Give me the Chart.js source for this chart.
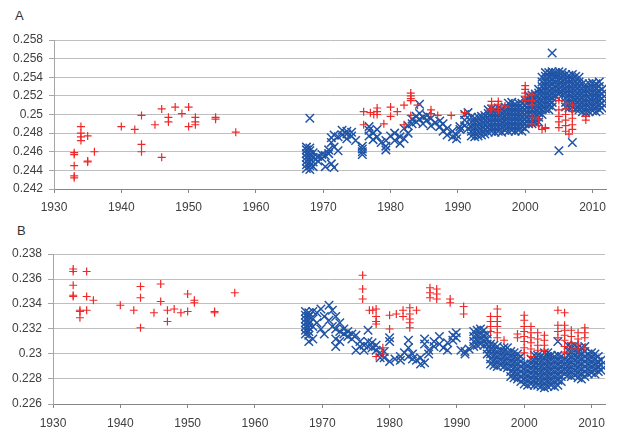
<!DOCTYPE html>
<html>
<head>
<meta charset="utf-8">
<script src="https://cdn.jsdelivr.net/npm/chart.js@4/dist/chart.umd.min.js"></script>
<style>
  body { margin: 0; background: #fff; }
  #wrap { position: relative; width: 618px; height: 433px; background: #fff; }
  canvas { position: absolute; left: 0; }
  .lbl { position: absolute; font: 13px "Liberation Sans", Arial, sans-serif; color: #333; }
</style>
</head>
<body>
<div id="wrap">
  <div class="lbl" style="left:15px; top:8px;">A</div>
  <canvas id="chartA" width="618" height="216" style="top:0px"></canvas>
  <div class="lbl" style="left:17px; top:223px;">B</div>
  <canvas id="chartB" width="618" height="217" style="top:216px"></canvas>
</div>
<script>
const xTicks = [1930, 1940, 1950, 1960, 1970, 1980, 1990, 2000, 2010];
const yTicksA = [0.242, 0.244, 0.246, 0.248, 0.25, 0.252, 0.254, 0.256, 0.258];
const yTicksB = [0.226, 0.228, 0.23, 0.232, 0.234, 0.236, 0.238];

// panel A, red "+" series: [year, value]
const redA = [
  [1933,0.2459],[1933,0.2457],[1933,0.2445],[1933,0.2434],[1933,0.2432],
  [1934,0.2487],[1934,0.2480],[1934,0.2476],[1934,0.2472],
  [1935,0.2477],[1935,0.2450],[1935,0.2449],[1936,0.2460],
  [1940,0.2487],[1942,0.2484],
  [1943,0.2499],[1943,0.2468],[1943,0.2460],[1945,0.2489],
  [1946,0.2506],[1946,0.2454],[1947,0.2497],[1947,0.2492],
  [1948,0.2508],[1949,0.2501],[1950,0.2508],[1950,0.2487],
  [1951,0.2497],[1951,0.2492],[1951,0.2489],[1954,0.2497],[1954,0.2495],[1957,0.2481],
  [1976,0.2503],[1976,0.2489],[1977,0.2502],[1977.5,0.2500],[1978,0.2507],[1978,0.2503],[1978,0.2500],
  [1979,0.2490],[1980,0.2508],[1980,0.2498],[1981,0.2503],[1982,0.2510],[1982,0.2489],
  [1983,0.2523],[1983,0.2520],[1983,0.2517],[1983,0.2515],[1983,0.2499],[1984,0.2510],
  [1986,0.2505],[1986,0.2501],[1987,0.2499],[1989,0.2499],[1991,0.2502],
  [1994.8,0.2505],[1995,0.2514],[1995,0.2510],[1995,0.2506],
  [1996,0.2514],[1996,0.2511],[1996,0.2507],[1996,0.2504],[1997,0.2509],
  [2000,0.2531],[2000,0.2527],[2000,0.2523],[2000,0.2519],[2000,0.2515],
  [2001,0.2521],[2001,0.2515],[2001,0.2510],[2001,0.2497],[2001,0.2490],
  [2002,0.2495],[2002,0.2488],[2002.5,0.2484],[2003,0.2486],[2003,0.2485],
  [2005,0.2515],[2005,0.2505],[2005,0.2498],[2005,0.2492],[2005,0.2486],
  [2006,0.2512],[2006,0.2506],[2006,0.2500],[2006,0.2494],[2006,0.2488],[2006,0.2482],[2006.5,0.2479],
  [2007,0.2510],[2007,0.2503],[2007,0.2496],[2007,0.2489],[2007,0.2484],
  [2009,0.2498],[2009,0.2494]
];

// panel A, blue "x" series: [year, [values]]
const blueA = [
  [1967.5,[0.2442,0.2446,0.2450,0.2454,0.2458,0.2462,0.2465]],
  [1968.0,[0.2441,0.2445,0.2449,0.2453,0.2457,0.2461,0.2464,0.2496]],
  [1968.5,[0.2444,0.2449,0.2454,0.2459]],
  [1969.2,[0.2450,0.2455]],[1969.8,[0.2453,0.2457]],[1970.3,[0.2444,0.2456]],
  [1970.8,[0.2458,0.2462]],[1971.2,[0.2470,0.2475,0.2447]],[1971.6,[0.2465,0.2478,0.2443]],
  [1972.2,[0.2461,0.2476]],[1972.8,[0.2478,0.2483]],[1973.5,[0.2474,0.2479,0.2482]],
  [1974.2,[0.2477,0.2481]],[1974.8,[0.2472]],[1975.8,[0.2457,0.2460,0.2463,0.2466]],
  [1976.8,[0.2477,0.2483,0.2487]],[1977.4,[0.2473,0.2480]],[1978.0,[0.2476,0.2484]],
  [1978.6,[0.2470]],[1979.3,[0.2462,0.2466,0.2472]],[1980.0,[0.2477]],
  [1980.6,[0.2472,0.2480]],[1981.4,[0.2469,0.2476]],[1982.0,[0.2474,0.2485]],
  [1982.6,[0.2480,0.2488]],[1983.2,[0.2490,0.2495]],[1983.8,[0.2492,0.2498]],
  [1984.3,[0.2495,0.2501,0.2511]],[1984.8,[0.2490,0.2497]],[1985.4,[0.2494,0.2499]],
  [1986.0,[0.2488,0.2496]],[1986.6,[0.2491]],[1987.3,[0.2487,0.2493]],
  [1987.8,[0.2482,0.2490]],[1988.4,[0.2478,0.2485]],[1989.2,[0.2476,0.2482]],
  [1989.8,[0.2474,0.2478]],[1990.3,[0.2484,0.2487]],[1991.0,[0.2488,0.2494,0.2500]],
  [1991.5,[0.2502,0.2485]],
  [1992.0,[0.2477,0.2482,0.2487,0.2492,0.2497]],
  [1992.5,[0.2476,0.2481,0.2486,0.2491,0.2496]],
  [1993.0,[0.2477,0.2482,0.2487,0.2492,0.2497]],
  [1993.5,[0.2478,0.2483,0.2488,0.2493,0.2498]],
  [1994.0,[0.2479,0.2484,0.2489,0.2494,0.2499]],
  [1994.5,[0.2481,0.2486,0.2491,0.2496,0.2501,0.2505]],
  [1995.0,[0.2482,0.2487,0.2492,0.2497,0.2502,0.2506]],
  [1995.5,[0.2481,0.2486,0.2491,0.2496,0.2501,0.2505]],
  [1996.0,[0.2482,0.2487,0.2492,0.2497,0.2502,0.2507]],
  [1996.5,[0.2481,0.2486,0.2491,0.2496,0.2501,0.2506]],
  [1997.0,[0.2483,0.2488,0.2493,0.2498,0.2503,0.2508]],
  [1997.5,[0.2482,0.2487,0.2492,0.2497,0.2502,0.2507,0.2512]],
  [1998.0,[0.2483,0.2488,0.2493,0.2498,0.2503,0.2508,0.2513]],
  [1998.5,[0.2482,0.2487,0.2492,0.2497,0.2502,0.2507,0.2511]],
  [1999.0,[0.2483,0.2488,0.2493,0.2498,0.2503,0.2508,0.2512]],
  [1999.5,[0.2482,0.2487,0.2492,0.2497,0.2502,0.2507,0.2512]],
  [2000.0,[0.2485,0.2490,0.2495,0.2500,0.2505,0.2510,0.2515]],
  [2000.5,[0.2490,0.2495,0.2500,0.2505,0.2510,0.2515,0.2520]],
  [2001.0,[0.2490,0.2495,0.2500,0.2505,0.2510,0.2515,0.2521]],
  [2001.5,[0.2491,0.2496,0.2501,0.2506,0.2511,0.2516,0.2522]],
  [2002.0,[0.2492,0.2497,0.2502,0.2507,0.2512,0.2517,0.2523,0.2527]],
  [2002.5,[0.2500,0.2505,0.2510,0.2515,0.2520,0.2525,0.2530,0.2535,0.2540]],
  [2003.0,[0.2506,0.2511,0.2516,0.2521,0.2526,0.2531,0.2536,0.2541,0.2545]],
  [2003.5,[0.2505,0.2510,0.2515,0.2520,0.2525,0.2530,0.2535,0.2540,0.2545]],
  [2004.0,[0.2508,0.2513,0.2518,0.2523,0.2528,0.2533,0.2538,0.2543,0.2546,0.2566]],
  [2004.5,[0.2520,0.2525,0.2530,0.2535,0.2540,0.2545]],
  [2005.0,[0.2522,0.2527,0.2532,0.2537,0.2542,0.2546,0.2461]],
  [2005.5,[0.2521,0.2526,0.2531,0.2536,0.2541,0.2545]],
  [2006.0,[0.2508,0.2513,0.2518,0.2523,0.2528,0.2533,0.2538,0.2543]],
  [2006.5,[0.2507,0.2512,0.2517,0.2522,0.2527,0.2532,0.2537,0.2542]],
  [2007.0,[0.2508,0.2513,0.2518,0.2523,0.2528,0.2533,0.2538,0.2543,0.2470]],
  [2007.5,[0.2506,0.2511,0.2516,0.2521,0.2526,0.2531,0.2536,0.2541]],
  [2008.0,[0.2505,0.2510,0.2515,0.2520,0.2525,0.2530,0.2535,0.2540]],
  [2008.5,[0.2503,0.2508,0.2513,0.2518,0.2523,0.2528,0.2533]],
  [2009.0,[0.2502,0.2507,0.2512,0.2517,0.2522,0.2527,0.2532]],
  [2009.5,[0.2503,0.2508,0.2513,0.2518,0.2523,0.2528,0.2533]],
  [2010.0,[0.2504,0.2509,0.2514,0.2519,0.2524,0.2529,0.2534]],
  [2010.5,[0.2503,0.2508,0.2513,0.2518,0.2523,0.2528,0.2533]],
  [2011.0,[0.2505,0.2510,0.2515,0.2520,0.2525,0.2530,0.2535]],
  [2011.4,[0.2507,0.2512,0.2517,0.2522,0.2527]]
];

// panel B, red "+" series
const redB = [
  [1933,0.2368],[1933,0.2366],[1933,0.2355],[1933,0.2347],[1933,0.2346],
  [1934,0.2335],[1934,0.2334],[1934,0.2329],
  [1935,0.2366],[1935,0.2346],[1935,0.2335],[1936,0.2343],
  [1940,0.2339],[1942,0.2335],[1943,0.2354],[1943,0.2345],[1943,0.2321],
  [1945,0.2333],[1946,0.2356],[1946,0.2342],[1947,0.2335],[1947,0.2326],
  [1948,0.2336],[1949,0.2333],[1950,0.2348],[1950,0.2334],[1951,0.2343],[1951,0.2341],
  [1954,0.2334],[1954,0.2333],[1957,0.2349],
  [1976,0.2363],[1976,0.2352],[1976,0.2344],
  [1977,0.2335],[1977.5,0.2335],[1978,0.2336],[1978,0.2330],[1978,0.2326],[1978,0.2324],
  [1978,0.2298],[1979,0.2305],[1979,0.2300],[1980,0.2331],[1980,0.2320],[1981,0.2332],
  [1982,0.2335],[1982,0.2330],[1983,0.2337],[1983,0.2332],[1983,0.2328],[1983,0.2325],[1983,0.2321],
  [1984,0.2335],[1986,0.2353],[1986,0.2349],[1986,0.2345],[1987,0.2352],[1987,0.2348],[1987,0.2344],
  [1989,0.2344],[1989,0.2341],[1991,0.2338],[1991,0.2332],
  [1995,0.2330],[1995,0.2326],[1995,0.2322],[1995,0.2318],
  [1996,0.2336],[1996,0.2330],[1996,0.2326],[1996,0.2322],[1996,0.2317],[1996,0.2313],[1997,0.2311],
  [1999,0.2316],[1999,0.2313],
  [2000,0.2331],[2000,0.2327],[2000,0.2322],[2000,0.2318],[2000,0.2314],[2000,0.2310],[2000,0.2305],[2000,0.2301],
  [2001,0.2322],[2001,0.2317],[2001,0.2313],[2001,0.2309],[2001,0.2304],[2001,0.2298],
  [2002,0.2317],[2002,0.2312],[2002,0.2307],[2002,0.2303],
  [2003,0.2315],[2003,0.2311],[2003,0.2307],[2003,0.2303],
  [2005,0.2335],[2005,0.2323],[2005,0.2318],[2005,0.2313],
  [2006,0.2333],[2006,0.2323],[2006,0.2319],[2006,0.2315],[2006,0.2311],[2006,0.2306],[2006,0.2301],
  [2007,0.2319],[2007,0.2314],[2007,0.2309],[2007,0.2304],
  [2008,0.2317],[2008,0.2312],[2008,0.2308],[2008,0.2304],
  [2009,0.2321],[2009,0.2317],[2009,0.2313],[2009,0.2305]
];

// panel B, blue "x" series
const blueB = [
  [1967.5,[0.2316,0.2319,0.2322,0.2325,0.2328,0.2331,0.2334]],
  [1968.0,[0.2315,0.2318,0.2321,0.2324,0.2327,0.2330,0.2333,0.2310]],
  [1968.6,[0.2322,0.2328,0.2334,0.2312]],
  [1969.2,[0.2333,0.2325]],[1969.8,[0.2336,0.2320]],[1970.3,[0.2330,0.2316]],
  [1971.0,[0.2339,0.2327]],[1971.5,[0.2335,0.2322]],[1972.0,[0.2330,0.2320,0.2312,0.2306]],
  [1972.6,[0.2325,0.2318,0.2310]],[1973.2,[0.2316,0.2320]],[1973.8,[0.2314,0.2318]],
  [1974.4,[0.2312,0.2316]],[1975.0,[0.2315,0.2303]],[1975.6,[0.2306,0.2310]],
  [1976.2,[0.2307,0.2303]],[1976.8,[0.2306,0.2310,0.2319]],[1977.4,[0.2305,0.2309]],
  [1978.0,[0.2303,0.2307]],[1978.6,[0.2301,0.2297]],[1979.2,[0.2297,0.2302]],
  [1980.0,[0.2313,0.2310,0.2294]],[1980.8,[0.2296]],[1981.6,[0.2295,0.2298]],
  [1982.2,[0.2301]],[1982.8,[0.2311,0.2305,0.2298]],[1983.4,[0.2300,0.2296]],
  [1984.0,[0.2295]],[1984.6,[0.2292,0.2297]],[1985.2,[0.2312,0.2308,0.2293]],
  [1985.8,[0.2303,0.2300]],[1986.6,[0.2306,0.2310]],[1987.4,[0.2314,0.2308]],
  [1988.0,[0.2305]],[1988.6,[0.2303,0.2309]],[1989.4,[0.2311,0.2315]],
  [1989.9,[0.2317,0.2313]],[1990.6,[0.2303]],[1991.2,[0.2302,0.2300]],[1991.8,[0.2304]],
  [1992.5,[0.2306,0.2310,0.2314,0.2318]],
  [1993.0,[0.2307,0.2311,0.2315,0.2319]],
  [1993.5,[0.2308,0.2312,0.2316,0.2320]],
  [1994.0,[0.2307,0.2311,0.2315,0.2319]],
  [1994.5,[0.2300,0.2304,0.2308,0.2312,0.2316]],
  [1995.0,[0.2292,0.2296,0.2300,0.2304,0.2308]],
  [1995.5,[0.2291,0.2295,0.2299,0.2303,0.2307]],
  [1996.0,[0.2290,0.2294,0.2298,0.2302,0.2306]],
  [1996.5,[0.2291,0.2295,0.2299,0.2303]],
  [1997.0,[0.2290,0.2294,0.2298,0.2302,0.2305]],
  [1997.5,[0.2289,0.2293,0.2297,0.2301,0.2305]],
  [1998.0,[0.2282,0.2286,0.2290,0.2294,0.2298,0.2302]],
  [1998.5,[0.2281,0.2285,0.2289,0.2293,0.2297,0.2301]],
  [1999.0,[0.2280,0.2284,0.2288,0.2292,0.2296,0.2300]],
  [1999.5,[0.2278,0.2282,0.2286,0.2290,0.2294,0.2298]],
  [2000.0,[0.2276,0.2280,0.2284,0.2288,0.2292]],
  [2000.5,[0.2275,0.2279,0.2283,0.2287,0.2291]],
  [2001.0,[0.2276,0.2280,0.2284,0.2288,0.2292,0.2296]],
  [2001.5,[0.2275,0.2279,0.2283,0.2287,0.2291,0.2295,0.2299]],
  [2002.0,[0.2275,0.2279,0.2283,0.2287,0.2291,0.2295,0.2299]],
  [2002.5,[0.2274,0.2278,0.2282,0.2286,0.2290,0.2294,0.2298]],
  [2003.0,[0.2273,0.2277,0.2281,0.2285,0.2289,0.2293,0.2297,0.2301]],
  [2003.5,[0.2274,0.2278,0.2282,0.2286,0.2290,0.2294,0.2298,0.2301]],
  [2004.0,[0.2275,0.2279,0.2283,0.2287,0.2291,0.2295,0.2299]],
  [2004.5,[0.2274,0.2278,0.2282,0.2286,0.2290,0.2294,0.2298]],
  [2005.0,[0.2275,0.2279,0.2283,0.2287,0.2291,0.2295,0.2299,0.2310]],
  [2005.5,[0.2278,0.2282,0.2286,0.2290,0.2294,0.2298]],
  [2006.0,[0.2284,0.2288,0.2292,0.2296]],
  [2006.5,[0.2283,0.2287,0.2291,0.2295,0.2299,0.2303,0.2307]],
  [2007.0,[0.2282,0.2286,0.2290,0.2294,0.2298,0.2302,0.2306]],
  [2007.5,[0.2283,0.2287,0.2291,0.2295,0.2299,0.2303,0.2307]],
  [2008.0,[0.2281,0.2285,0.2289,0.2293,0.2297,0.2301,0.2305]],
  [2008.5,[0.2280,0.2284,0.2288,0.2292,0.2296,0.2300,0.2305]],
  [2009.0,[0.2282,0.2286,0.2290,0.2294,0.2298,0.2302,0.2306]],
  [2009.5,[0.2284,0.2288,0.2292,0.2296,0.2300]],
  [2010.0,[0.2285,0.2289,0.2293,0.2297,0.2301]],
  [2010.5,[0.2284,0.2288,0.2292,0.2296,0.2300]],
  [2011.0,[0.2286,0.2290,0.2294,0.2298]],
  [2011.4,[0.2287,0.2291,0.2295]]
];

const FONT = { family: '"Liberation Sans", Arial, sans-serif', size: 12 };
const TEXT = '#404040';

function toPoints(pairs) {
  return pairs.map(p => ({ x: p[0], y: p[1] }));
}
function columnsToPoints(cols) {
  const pts = [];
  cols.forEach(c => c[1].forEach(v => pts.push({ x: c[0], y: v })));
  return pts;
}

function insert_scatter(element, red, blue, yTicks, geo) {
  const data = {
    datasets: [
      {
        label: 'red',
        data: toPoints(red),
        pointStyle: 'cross',
        pointRadius: 4,
        borderColor: 'rgb(240, 40, 40)',
        backgroundColor: 'rgb(240, 40, 40)',
        borderWidth: 1.2,
      },
      {
        label: 'blue',
        data: columnsToPoints(blue),
        pointStyle: 'crossRot',
        pointRadius: 6,
        borderColor: 'rgb(32, 84, 166)',
        backgroundColor: 'rgb(32, 84, 166)',
        borderWidth: 1.5,
      }
    ]
  };
  const config = {
    type: 'scatter',
    data,
    options: {
      responsive: false,
      animation: false,
      layout: { padding: { top: geo.top, right: geo.right, bottom: 0, left: 0 } },
      plugins: {
        legend: { display: false },
        tooltip: { enabled: false },
      },
      scales: {
        x: {
          type: 'linear',
          min: 1930,
          max: 2012,
          afterBuildTicks: s => { s.ticks = xTicks.map(v => ({ value: v })); },
          afterFit: s => { s.height = geo.xHeight; },
          grid: {
            drawOnChartArea: false,
            tickLength: 4,
            tickColor: '#868686',
          },
          border: { display: true, color: '#868686', width: 1 },
          ticks: {
            font: FONT,
            color: TEXT,
            padding: geo.xPad,
            maxRotation: 0,
            callback: v => String(v),
          }
        },
        y: {
          min: yTicks[0],
          max: yTicks[yTicks.length - 1],
          afterBuildTicks: s => { s.ticks = yTicks.map(v => ({ value: v })); },
          afterFit: s => { s.width = geo.left; },
          grid: {
            color: '#bfbfbf',
            lineWidth: 1,
            tickLength: 5,
            tickColor: '#a6a6a6',
          },
          border: { display: true, color: '#a6a6a6', width: 1 },
          ticks: {
            font: FONT,
            color: TEXT,
            padding: 6,
            callback: v => String(parseFloat(Number(v).toFixed(3))),
          }
        },
      },
    }
  };
  return new Chart(element, config);
}

insert_scatter(document.getElementById('chartA'), redA, blueA, yTicksA,
  { top: 40, right: 12, left: 54, xHeight: 27, xPad: 7 });
insert_scatter(document.getElementById('chartB'), redB, blueB, yTicksB,
  { top: 38, right: 13, left: 53, xHeight: 29, xPad: 8 });
</script>
</body>
</html>
